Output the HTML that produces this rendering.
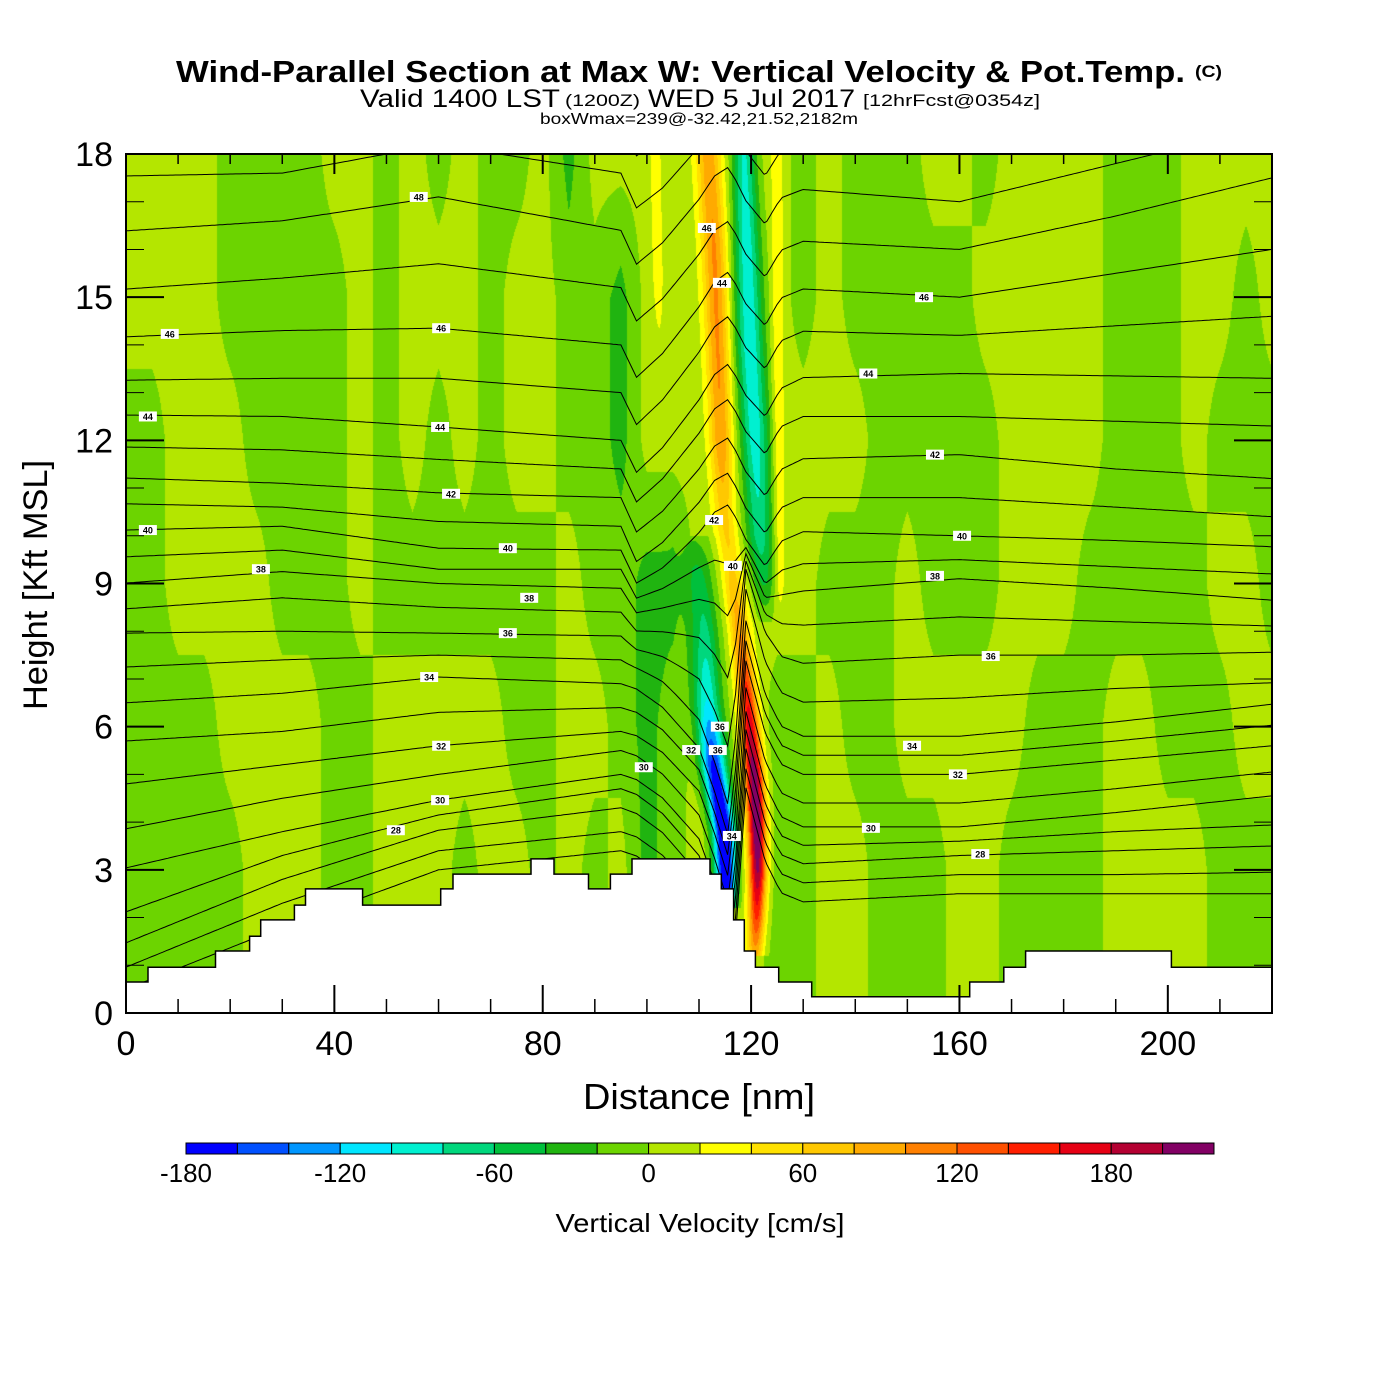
<!DOCTYPE html>
<html><head><meta charset="utf-8"><title>Wind-Parallel Section</title>
<style>
html,body{margin:0;padding:0;background:#fff;}
#wrap{position:relative;width:1400px;height:1400px;overflow:hidden;font-family:"Liberation Sans",Arial,sans-serif;}
#field{position:absolute;left:126px;top:154px;}
#ov{position:absolute;left:0;top:0;}
</style></head>
<body>
<div id="wrap">
<canvas id="field" width="1146" height="859"></canvas>
<svg id="ov" width="1400" height="1400" xmlns="http://www.w3.org/2000/svg">
<defs><clipPath id="pc"><rect x="126" y="154" width="1146" height="859"/></clipPath></defs>
<g id="lines" clip-path="url(#pc)"></g>
<g id="terrain"></g>
<g id="clabels"></g>
<g id="axes"></g>
<rect x="126" y="154" width="1146" height="859" fill="none" stroke="#000" stroke-width="2"/>
<text x="176" y="82" font-size="31" font-weight="bold" textLength="1009" lengthAdjust="spacingAndGlyphs">Wind-Parallel Section at Max W: Vertical Velocity &amp; Pot.Temp.</text>
<text x="1195" y="77" font-size="17" font-weight="bold" textLength="27" lengthAdjust="spacingAndGlyphs">(C)</text>
<text x="360" y="107" font-size="25" textLength="200" lengthAdjust="spacingAndGlyphs">Valid 1400 LST</text>
<text x="565" y="106" font-size="17" textLength="75" lengthAdjust="spacingAndGlyphs">(1200Z)</text>
<text x="648" y="107" font-size="25" textLength="207" lengthAdjust="spacingAndGlyphs">WED 5 Jul 2017</text>
<text x="863" y="106" font-size="17" textLength="177" lengthAdjust="spacingAndGlyphs">[12hrFcst@0354z]</text>
<text x="540" y="124" font-size="16" textLength="318" lengthAdjust="spacingAndGlyphs">boxWmax=239@-32.42,21.52,2182m</text>
<text x="699" y="1109" font-size="36" text-anchor="middle" textLength="232" lengthAdjust="spacingAndGlyphs">Distance [nm]</text>
<text transform="translate(47,585) rotate(-90)" font-size="34" text-anchor="middle" textLength="250" lengthAdjust="spacingAndGlyphs">Height [Kft MSL]</text>
<g id="cbar"></g>
<text x="700" y="1232" font-size="26" text-anchor="middle" textLength="289" lengthAdjust="spacingAndGlyphs">Vertical Velocity [cm/s]</text>
</svg>
</div>
<script>
// ---- plot geometry ----
const X0=126, Y0=154, PW=1146, PH=859, XMAX=220, ZMAX=18;
function xs(nm){return X0+nm*PW/XMAX;}
function ys(k){return Y0+PH-k*PH/ZMAX;}

// ---- color bins (cm/s) ----
const wColors=["#0000ff","#0050ff","#0096ff","#00e6ff","#00f0d0","#00d77d","#00c03c","#20b410","#6cd400","#b4e600","#ffff00","#ffe100","#ffc800","#ffaa00","#ff8000","#ff5000","#ff1e00","#e60014","#b40032","#820064"];
const wBinStart=-180, wBinStep=20;
const cbarTicks=[-180,-120,-60,0,60,120,180];

// ---- background w grid: columns every 5 nm (0..220); 1=light, -1=dark, -3=darker ----
const gridRowsKft=[18,15,12,9,6,3,0];
const row18=[1,1,1,1,-1,-1,-1,-1,1,1,-1,1,-1,1,-1,-1,1,-3,1,1,1,1,1,1,1,1,-1,1,-1,-1,-1,1,1,-1,1,1,1,1,-1,-1,-1,1,1,1,1];
const row15=[1,1,1,1,-1,-1,-1,-1,-1,1,-1,1,1,1,-1,1,1,-1,-1,-3,1,1,1,1,1,1,-1,1,-1,-1,-1,-1,-1,1,1,1,1,1,-1,-1,-1,1,1,-1,1];
const row12=[-1,-1,1,1,1,-1,-1,-1,-1,1,-1,1,-1,1,-1,1,1,-1,-1,-3,1,1,1,1,1,1,1,1,1,-1,-1,-1,-1,-1,1,1,1,1,-1,-1,-1,1,-1,-1,-1];
const row9=[-1,-1,1,1,1,1,-1,-1,-1,1,-1,-1,-1,-1,-1,-1,-1,1,-1,-1,-3,-3,1,1,1,1,1,-1,-1,-1,1,-1,-1,-1,1,1,1,-1,-1,-1,-1,-1,1,1,-1];
const row6=[-1,-1,-1,-1,1,1,1,1,-1,-1,1,1,1,1,1,-1,-1,1,1,-1,-3,-1,1,1,1,-1,-1,1,-1,-1,1,1,1,1,1,-1,-1,-1,1,1,-1,-1,-1,1,1];
const row3=[-1,-1,-1,-1,-1,1,1,1,-1,-1,1,1,1,-1,1,1,-1,1,-1,1,-3,-1,1,1,1,-1,-1,1,1,-1,-1,-1,1,1,-1,-1,-1,-1,1,1,1,1,-1,-1,-1];
const row0=row3;
const gridColStepNm=5;

// ---- updraft / downdraft cores: heights (kft), centre (nm), peak (cm/s), width (nm) ----
const upH=[18.2,16,14,12,10.5,9.5,8,6.5,5,4,3,2,1.2];
const upX=[111.7,112.9,113.6,114.2,114.8,116.0,117.9,119.4,120.6,121.1,121.3,121.1,120.8];
const upPeak=[85,95,95,90,60,50,90,150,210,225,200,140,80];
const upS=[2.4,2.4,2.3,2.2,2.1,2,1.9,1.8,1.8,1.8,1.7,1.6,1.5];
const dnUpH=[18.2,16,14,12,10,9,8.2];
const dnUpX=[118.6,119.2,119.8,120.8,121.7,122.5,122.9];
const dnUpPeak=[-90,-100,-105,-100,-80,-50,-10];
const dnUpS=[2.2,2.6,2.8,2.8,2.6,2.4,2.2];
const dnLoH=[10,9.3,8,6.5,5.2,3.8,2.7,2.2];
const dnLoX=[109.6,110.0,111.0,111.6,112.8,114.8,115.2,115.2];
const dnLoPeak=[-20,-50,-75,-110,-175,-215,-200,-160];
const dnLoS=[2.6,2.7,2.7,2.7,2.5,2.2,2.0,1.8];
const yelRH=[18.2,13,9,7.5];
const yelRX=[125.0,125.2,125.4,125.4];
const yelRPeak=[30,30,28,0];
const yelRS=[1.2,1.2,1.2,1.2];
const yelLH=[18.2,15.5,13.5];
const yelLX=[101.6,102.1,102.5];
const yelLPeak=[30,28,0];
const yelLS=[1.0,1.0,1.0];

// ---- terrain steps ----
const terrainStartNm=[0,4.22,17.18,23.73,25.86,32.33,34.46,45.42,60.41,62.78,77.75,82.17,88.79,92.99,97.14,112.11,114.28,116.64,118.70,120.83,125.30,131.64,161.97,168.52,172.70,200.69];
const terrainKft=[0.65,0.96,1.30,1.61,1.95,2.26,2.60,2.26,2.60,2.91,3.23,2.91,2.60,2.91,3.23,2.91,2.60,1.95,1.30,0.96,0.65,0.34,0.65,0.96,1.30,0.96];

// ---- potential temperature contours ----
const thetaLevels=[26,27,28,29,30,31,32,33,34,35,36,37,38,39,40,41,42,43,44,45,46,47,48,49,50];
const stationNm=[0,30,60,95,125,160,190,220];
const h0=[0.5,0.96,1.47,2.12,3.04,3.86,4.80,5.70,6.50,7.25,7.96,8.47,9.01,9.56,10.12,10.67,11.21,11.86,12.53,13.26,14.17,15.17,16.39,17.54,18.6];
const h30=[1.8,2.3,2.8,3.3,3.8,4.5,5.2,5.9,6.7,7.4,8.0,8.7,9.25,9.7,10.2,10.6,11.1,11.8,12.5,13.3,14.3,15.4,16.6,17.6,18.6];
const h60=[3.0,3.4,3.83,4.15,4.46,5.0,5.6,6.3,7.04,7.5,7.96,8.5,9.0,9.3,9.74,10.3,10.9,11.6,12.28,13.3,14.35,15.7,17.1,18.2,19.2];
const h95=[3.4,3.8,4.3,4.7,5.0,5.5,5.9,6.4,6.9,7.4,7.9,8.4,8.9,9.3,9.7,10.2,10.8,11.4,12.0,13.0,14.0,15.2,16.4,17.6,18.7];
const h125=[2.3,2.7,3.1,3.5,3.9,4.4,5.0,5.4,5.8,6.5,7.3,8.1,8.8,9.4,10.1,10.8,11.6,12.5,13.3,14.3,15.2,16.2,17.3,18.3,19.3];
const h160=[2.5,2.9,3.3,3.6,3.9,4.4,5.0,5.4,5.8,6.6,7.5,8.3,9.1,9.5,10.0,10.8,11.7,12.5,13.4,14.2,15.0,16.0,17.0,18.0,19.0];
const h190=[2.5,2.9,3.4,3.8,4.2,4.7,5.3,5.7,6.1,6.8,7.5,8.2,8.9,9.35,9.9,10.6,11.4,12.4,13.35,14.4,15.5,16.7,17.8,18.7,19.7];
const h220=[2.5,2.95,3.5,3.94,4.55,5.05,5.6,6.03,6.47,6.92,7.56,8.11,8.65,9.2,9.77,10.4,11.2,12.3,13.3,14.6,16.0,17.5,18.6,19.5,20.5];
const coreX=[95,98,103,110,113,115.5,117,119,122.7,126,130];
const dzUpper=[0,-0.8,-0.5,0.2,0.6,0.7,0.4,-0.1,-0.7,-0.2,0];
const dzLower=[0,0,-0.2,-0.8,-1.6,-2.4,-1.0,2.2,0.8,0.2,0];

// ---- contour labels: level, nm, kft ----
const labelLevel=[48,46,46,44,44,42,40,40,38,38,36,34,32,30,30,28,46,44,42,40,36,32,36,34,46,44,42,40,38,36,34,32,30,28];
const labelNm=[56.2,8.4,60.5,4.2,60.3,62.4,4.2,73.3,25.9,77.4,73.3,58.2,60.5,99.4,60.3,51.8,111.5,114.4,112.9,116.5,114.0,108.5,113.6,116.3,153.2,142.5,155.3,160.5,155.3,166.0,150.9,159.7,143.0,164.0];
const labelKft=[17.1,14.23,14.35,12.5,12.28,10.88,10.12,9.74,9.3,8.7,7.96,7.04,5.6,5.15,4.46,3.83,16.45,15.3,10.33,9.37,6.0,5.51,5.51,3.71,15.0,13.4,11.7,10.0,9.16,7.48,5.6,5.0,3.88,3.33];

// ---- axis ticks ----
const xTickLabels=[0,40,80,120,160,200];
const yTickLabels=[0,3,6,9,12,15,18];

const NS="http://www.w3.org/2000/svg";
function mk(tag,attrs,parent){const e=document.createElementNS(NS,tag);for(const k in attrs)e.setAttribute(k,attrs[k]);parent.appendChild(e);return e;}
function interp(xa,ya,x){
  if(x<=xa[0])return ya[0];
  for(let i=1;i<xa.length;i++){if(x<=xa[i]){const t=(x-xa[i-1])/(xa[i]-xa[i-1]);return ya[i-1]+t*(ya[i]-ya[i-1]);}}
  return ya[ya.length-1];
}
function interpDesc(ha,va,z){
  if(z>ha[0]||z<ha[ha.length-1])return null;
  for(let i=1;i<ha.length;i++){if(z>=ha[i]){const t=(ha[i-1]-z)/(ha[i-1]-ha[i]);return va[i-1]+t*(va[i]-va[i-1]);}}
  return va[va.length-1];
}

// ---- draw field ----
(function(){
  const grid=[row18,row15,row12,row9,row6,row3,row0].map(r=>r.map(v=>v===-3?-28:v*8));
  const ridges=[[upH,upX,upPeak,upS],[dnUpH,dnUpX,dnUpPeak,dnUpS],[dnLoH,dnLoX,dnLoPeak,dnLoS],[yelRH,yelRX,yelRPeak,yelRS],[yelLH,yelLX,yelLPeak,yelLS]];
  const rgb=wColors.map(c=>[parseInt(c.substr(1,2),16),parseInt(c.substr(3,2),16),parseInt(c.substr(5,2),16)]);
  const cv=document.getElementById('field');const ctx=cv.getContext('2d');
  const img=ctx.createImageData(PW,PH);const d=img.data;
  for(let py=0;py<PH;py++){
    const z=ZMAX-(py+0.5)*ZMAX/PH;
    const rf=(18-z)/3;let r0=Math.floor(rf);if(r0>5)r0=5;const tr=rf-r0;
    const rp=ridges.map(R=>{const c=interpDesc(R[0],R[1],z);if(c===null)return null;return [c,interpDesc(R[0],R[2],z),interpDesc(R[0],R[3],z)];});
    for(let px=0;px<PW;px++){
      const xn=(px+0.5)*XMAX/PW;
      const cf=xn/gridColStepNm;let c0=Math.floor(cf);if(c0>43)c0=43;const tc=cf-c0;
      const g=(grid[r0][c0]*(1-tc)+grid[r0][c0+1]*tc)*(1-tr)+(grid[r0+1][c0]*(1-tc)+grid[r0+1][c0+1]*tc)*tr;
      let w=g;
      for(const p of rp){if(p){const dx=(xn-p[0])/p[2];if(dx>-4&&dx<4)w+=p[1]*Math.exp(-dx*dx);}}
      let k=Math.floor((w-wBinStart)/wBinStep);if(k<0)k=0;if(k>19)k=19;
      const o=(py*PW+px)*4;d[o]=rgb[k][0];d[o+1]=rgb[k][1];d[o+2]=rgb[k][2];d[o+3]=255;
    }
  }
  ctx.putImageData(img,0,0);
})();

// ---- theta lines ----
(function(){
  const g=document.getElementById('lines');
  const table=[h0,h30,h60,h95,h125,h160,h190,h220];
  thetaLevels.forEach((lev,i)=>{
    const hs=table.map(a=>a[i]);
    let dstr='';
    for(let x=0;x<=XMAX+0.01;x+=0.5){
      let z=interp(stationNm,hs,x);
      if(x>coreX[0]&&x<coreX[coreX.length-1]){
        const wu=Math.max(0,Math.min(1,(z-7)/3));
        z+=wu*interp(coreX,dzUpper,x)+(1-wu)*interp(coreX,dzLower,x);
      }
      dstr+=(x===0?'M':'L')+xs(x).toFixed(1)+','+ys(z).toFixed(1);
    }
    const p=mk('path',{d:dstr,fill:'none',stroke:'#000','stroke-width':'1'},g);
    
    
  });
})();

// ---- terrain ----
(function(){
  const g=document.getElementById('terrain');
  let pts=[];
  for(let i=0;i<terrainStartNm.length;i++){
    const xa=xs(terrainStartNm[i]),xb=xs(i+1<terrainStartNm.length?terrainStartNm[i+1]:XMAX),y=ys(terrainKft[i]);
    pts.push([xa,y],[xb,y]);
  }
  let d='M'+X0+','+(Y0+PH);
  pts.forEach(p=>{d+='L'+p[0].toFixed(1)+','+p[1].toFixed(1);});
  d+='L'+(X0+PW)+','+(Y0+PH)+'Z';
  const f=mk('path',{d:d,fill:'#fff',stroke:'none'},g);
  
  
  let d2='';pts.forEach((p,j)=>{d2+=(j?'L':'M')+p[0].toFixed(1)+','+p[1].toFixed(1);});
  const o=mk('path',{d:d2,fill:'none',stroke:'#000','stroke-width':'1.5'},g);
  
  
})();

// ---- contour labels ----
(function(){
  const g=document.getElementById('clabels');
  labelLevel.forEach((lev,i)=>{
    const x=xs(labelNm[i]),y=ys(labelKft[i]);
    const gg=mk('g',{},g);
    
    
    mk('rect',{x:x-9,y:y-5,width:18,height:10,fill:'#fff'},gg);
    const t=mk('text',{x:x,y:y+3.5,'font-size':'9','font-weight':'bold','text-anchor':'middle'},gg);
    t.textContent=String(lev);
  });
})();

// ---- axes ----
(function(){
  const g=document.getElementById('axes');
  for(let v=0;v<=XMAX;v+=10){
    const x=xs(v),maj=(v%40===0);
    const a=mk('line',{x1:x,x2:x,y1:Y0+PH,y2:Y0+PH-(maj?28:14),stroke:'#000','stroke-width':maj?2:1.5},g);
    
    
    const b=mk('line',{x1:x,x2:x,y1:Y0,y2:Y0+(maj?20:10),stroke:'#000','stroke-width':maj?2:1.5},g);
    
    
  }
  for(let v=0;v<=ZMAX;v+=1){
    const y=ys(v),maj=(v%3===0);
    const a=mk('line',{x1:X0,x2:X0+(maj?38:18),y1:y,y2:y,stroke:'#000','stroke-width':maj?2:1},g);
    
    
    const b=mk('line',{x1:X0+PW,x2:X0+PW-(maj?38:18),y1:y,y2:y,stroke:'#000','stroke-width':maj?2:1},g);
    
    
  }
  xTickLabels.forEach(v=>{
    const t=mk('text',{x:xs(v),y:1055,'font-size':'34','text-anchor':'middle'},g);
    
    
    t.textContent=String(v);
  });
  yTickLabels.forEach(v=>{
    const t=mk('text',{x:113,y:ys(v)+12,'font-size':'34','text-anchor':'end'},g);
    
    
    t.textContent=String(v);
  });
})();

// ---- colorbar ----
(function(){
  const g=document.getElementById('cbar');
  const cx0=186,cw=1028/wColors.length,cy=1143,ch=11;
  wColors.forEach((c,i)=>{
    const r=mk('rect',{x:cx0+i*cw,y:cy,width:cw,height:ch,fill:c,stroke:'#000','stroke-width':'1'},g);
    
    
  });
  cbarTicks.forEach(v=>{
    const x=cx0+(v-wBinStart)/wBinStep*cw;
    const t=mk('text',{x:x,y:1182,'font-size':'26','text-anchor':'middle'},g);
    
    
    t.textContent=String(v);
  });
})();
</script>
</body></html>
